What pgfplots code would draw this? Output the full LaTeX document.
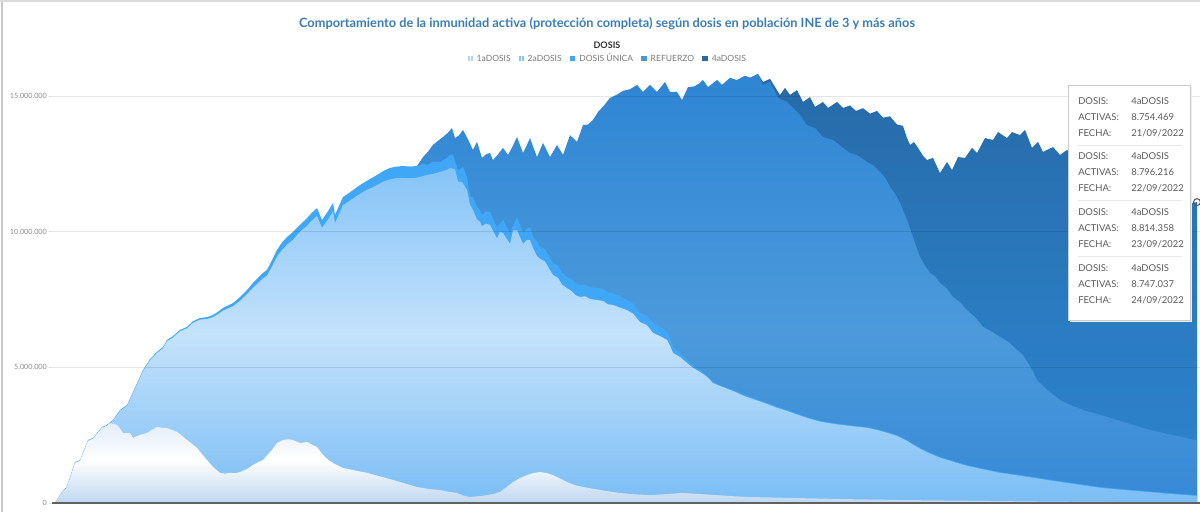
\documentclass[border=0pt]{standalone}
\usepackage{fontspec}
\setmainfont{Lato}
\usepackage{pgfplots}
\pgfplotsset{compat=1.18}
\usepackage{pgfplotstable}

\definecolor{titleblue}{HTML}{3A7DB6}
\definecolor{c4top}{HTML}{276AA7}
\definecolor{c4mid}{HTML}{2A7ABF}
\definecolor{c4bot}{HTML}{2D84CD}
\definecolor{crtop}{HTML}{2E85D3}
\definecolor{crmid}{HTML}{4C9ADC}
\definecolor{crbot}{HTML}{3689D5}
\definecolor{cuni}{HTML}{3FA7F6}
\definecolor{c2top}{HTML}{85C4F7}
\definecolor{c2mid}{HTML}{C4E2FB}
\definecolor{c2bot}{HTML}{7ABDF5}
\definecolor{c1top}{HTML}{E3EDF9}
\definecolor{c1mid}{HTML}{FFFFFF}
\definecolor{c1bot}{HTML}{BFD7F1}
\definecolor{ttext}{HTML}{5A5A5A}
\definecolor{legtext}{HTML}{7A7A7A}

\pgfdeclareverticalshading{shFour}{100bp}{color(0bp)=(c4bot); color(25bp)=(c4bot); color(50bp)=(c4mid); color(75bp)=(c4top); color(100bp)=(c4top)}
\pgfdeclareverticalshading{shRef}{100bp}{color(0bp)=(crbot); color(25bp)=(crbot); color(45bp)=(crmid); color(75bp)=(crtop); color(100bp)=(crtop)}
\pgfdeclareverticalshading{shTwo}{100bp}{color(0bp)=(c2bot); color(25bp)=(c2bot); color(50bp)=(c2mid); color(75bp)=(c2top); color(100bp)=(c2top)}
\pgfdeclareverticalshading{shOne}{100bp}{color(0bp)=(c1bot); color(25bp)=(c1bot); color(52bp)=(c1mid); color(75bp)=(c1top); color(100bp)=(c1top)}

% Cumulative tops (millions) of the stacked series; x = day position
% top of 4aDOSIS (total), where 4aDOSIS exists
\pgfplotstableread{
x y
740 15.65
745 15.74
750 15.67
758 15.81
763 15.52
770 15.63
780 15.04
785 15.30
790 15.04
797 15.22
803 14.78
810 14.96
815 14.60
823 14.78
828 14.56
837 14.78
843 14.56
850 14.65
856 14.45
863 14.55
870 14.35
877 14.45
883 14.20
890 14.25
897 13.95
903 13.90
907 13.45
910 13.20
914 13.30
918 13.09
923 12.80
927 12.64
933 12.72
940 12.16
947 12.57
952 12.27
958 12.75
965 12.72
972 13.09
977 12.90
985 13.45
993 13.38
998 13.67
1007 13.45
1012 13.67
1020 13.56
1025 13.75
1032 13.09
1038 13.31
1043 12.94
1053 13.12
1060 12.83
1067 13.01
1075 12.75
1082 12.95
1090 12.65
1097 12.85
1105 12.45
1112 12.60
1120 12.25
1127 12.40
1135 12.05
1142 12.20
1150 11.85
1157 11.95
1165 11.65
1172 11.75
1180 11.40
1187 11.30
1192 11.06
1197 11.09
}\tFour

% top of REFUERZO
\pgfplotstableread{
x y
417 12.42
423 12.75
428 12.95
433 13.20
438 13.35
443 13.49
448 13.65
452 13.82
455 13.45
459 13.55
463 13.75
468 13.40
473 13.01
477 13.31
482 12.72
486 12.85
490 12.90
493 12.64
498 12.85
503 13.09
508 12.83
512 13.10
517 13.49
523 12.90
527 13.20
530 13.45
537 12.75
543 13.27
550 12.75
557 13.20
563 12.83
570 13.56
577 13.31
583 13.93
588 13.95
593 14.12
598 14.41
604 14.65
610 14.93
617 15.05
623 15.19
630 15.25
637 15.41
643 15.15
650 15.41
657 15.15
665 15.52
670 15.15
677 15.15
682 14.85
688 15.33
694 15.35
700 15.48
703 15.59
708 15.33
717 15.59
722 15.41
730 15.67
737 15.59
745 15.74
750 15.67
758 15.81
763 15.40
770 15.52
778 14.93
787 14.78
793 14.56
800 14.30
807 13.93
815 13.82
823 13.49
833 13.38
843 13.09
850 12.90
858 12.80
867 12.57
873 12.45
880 12.20
885 12.00
890 11.65
895 11.40
900 11.06
907 10.43
913 9.80
920 9.07
925 8.75
930 8.48
935 8.35
940 8.11
947 7.90
953 7.59
960 7.40
967 7.11
975 6.85
983 6.49
990 6.35
1000 6.12
1008 5.95
1017 5.64
1023 5.45
1028 5.16
1033 4.85
1037 4.53
1042 4.35
1047 4.17
1053 4.00
1060 3.80
1070 3.62
1083 3.43
1100 3.25
1117 3.06
1133 2.88
1150 2.69
1167 2.55
1183 2.43
1197 2.30
}\tRef

% top of DOSIS UNICA
\pgfplotstableread{
x y
55 0
60 0.30
63 0.48
66 0.55
68 0.74
75 1.51
80 1.58
88 2.32
93 2.40
102 2.80
107 2.88
113 3.06
120 3.43
127 3.61
133 4.09
143 4.90
150 5.30
157 5.57
163 5.75
167 6.01
173 6.15
180 6.38
187 6.49
193 6.70
200 6.82
207 6.85
213 6.93
218 7.05
223 7.19
233 7.37
240 7.59
247 7.85
253 8.11
263 8.48
267 8.59
272 8.95
277 9.33
282 9.60
287 9.80
293 9.99
300 10.25
307 10.50
312 10.70
317 10.87
322 10.43
328 10.75
333 11.06
335 10.62
343 11.28
350 11.45
360 11.72
368 11.90
377 12.09
384 12.25
390 12.35
397 12.40
403 12.42
410 12.40
417 12.42
423 12.50
427 12.46
433 12.57
440 12.57
447 12.72
450 12.83
453 12.83
458 12.27
463 12.38
467 12.02
470 11.28
473 11.28
477 10.91
480 10.80
482 10.62
486 10.75
490 10.73
497 10.17
503 10.43
510 9.95
517 10.54
520 10.25
523 9.95
527 10.10
530 10.17
533 9.80
537 9.65
540 9.44
545 9.35
549 9.10
553 8.85
558 8.75
562 8.50
567 8.33
572 8.25
576 8.10
580 8.04
585 8.05
590 7.95
597 7.92
603 7.90
608 7.75
613 7.74
620 7.62
627 7.48
633 7.35
640 7.00
647 6.90
653 6.63
660 6.50
667 6.30
670 6.10
673 5.75
680 5.55
687 5.27
693 5.05
700 4.90
707 4.70
713 4.46
720 4.35
733 4.17
743 4.00
753 3.87
767 3.69
777 3.55
787 3.43
797 3.30
810 3.13
820 3.03
833 2.95
850 2.87
867 2.80
877 2.72
887 2.62
897 2.50
907 2.32
913 2.18
920 2.03
930 1.85
940 1.70
953 1.55
967 1.40
983 1.27
1000 1.14
1017 1.05
1033 0.96
1050 0.86
1067 0.77
1083 0.68
1100 0.59
1117 0.53
1133 0.48
1150 0.43
1167 0.37
1183 0.33
1197 0.29
}\tUni

% top of 2aDOSIS
\pgfplotstableread{
x y
55 0
60 0.29
63 0.46
66 0.53
68 0.71
75 1.48
80 1.55
88 2.29
93 2.37
102 2.77
107 2.85
113 3.03
120 3.40
127 3.58
133 4.05
143 4.86
150 5.26
157 5.53
163 5.70
167 5.96
173 6.10
180 6.33
187 6.44
193 6.64
200 6.76
207 6.78
213 6.85
218 6.96
223 7.09
233 7.25
240 7.45
247 7.70
253 7.93
263 8.28
267 8.38
272 8.72
277 9.08
282 9.33
287 9.52
293 9.70
300 10.00
307 10.22
312 10.42
317 10.58
322 10.14
328 10.45
333 10.75
335 10.32
343 10.98
350 11.15
360 11.40
368 11.56
377 11.72
384 11.86
390 11.93
397 11.98
403 11.98
410 11.97
417 11.99
423 12.05
427 12.09
433 12.13
440 12.20
447 12.28
450 12.35
455 12.31
458 11.85
462 11.83
467 11.54
470 11.00
473 10.80
477 10.45
480 10.36
482 10.20
486 10.30
490 10.25
497 9.75
500 10.00
503 9.95
510 9.55
513 10.05
517 10.05
520 9.80
523 9.55
527 9.70
530 9.69
533 9.40
537 9.10
540 9.00
545 8.90
549 8.65
553 8.40
558 8.30
562 8.05
567 7.92
572 7.80
576 7.65
580 7.59
585 7.62
590 7.52
597 7.48
603 7.45
608 7.32
613 7.30
620 7.20
627 7.11
633 6.98
640 6.67
647 6.55
653 6.27
660 6.15
667 6.01
670 5.80
673 5.53
680 5.38
687 5.16
693 4.98
700 4.83
707 4.65
713 4.42
720 4.31
733 4.13
743 3.96
753 3.83
767 3.65
777 3.51
787 3.39
797 3.26
810 3.10
820 3.00
833 2.92
850 2.84
867 2.77
877 2.69
887 2.59
897 2.47
907 2.29
913 2.15
920 2.00
930 1.82
940 1.67
953 1.52
967 1.37
983 1.24
1000 1.11
1017 1.02
1033 0.93
1050 0.83
1067 0.74
1083 0.65
1100 0.56
1117 0.50
1133 0.45
1150 0.40
1167 0.34
1183 0.30
1197 0.26
}\tTwo

% top of 1aDOSIS
\pgfplotstableread{
x y
55 0
60 0.29
63 0.46
66 0.53
68 0.71
75 1.48
80 1.55
88 2.29
93 2.37
102 2.77
107 2.85
110 2.95
113 2.92
117 2.88
120 2.75
123 2.58
130 2.58
133 2.40
136 2.45
140 2.51
147 2.58
152 2.70
157 2.80
162 2.78
167 2.76
172 2.70
177 2.62
182 2.48
187 2.32
192 2.18
197 2.03
202 1.80
207 1.58
213 1.33
220 1.11
225 1.08
230 1.11
235 1.10
240 1.14
247 1.25
253 1.40
258 1.50
263 1.58
267 1.75
270 1.88
274 2.05
277 2.21
283 2.32
288 2.35
293 2.32
300 2.21
307 2.25
312 2.15
317 2.06
323 1.77
328 1.60
333 1.47
338 1.38
343 1.29
355 1.20
367 1.11
380 0.98
393 0.85
405 0.72
417 0.59
428 0.52
440 0.48
448 0.42
457 0.37
463 0.28
470 0.22
478 0.25
487 0.29
493 0.33
500 0.41
507 0.60
513 0.77
520 0.92
527 1.03
533 1.10
540 1.14
547 1.10
553 1.03
560 0.90
567 0.77
575 0.66
583 0.59
592 0.53
600 0.48
610 0.42
620 0.37
635 0.32
650 0.29
667 0.33
683 0.37
700 0.33
717 0.29
733 0.25
750 0.22
775 0.20
800 0.18
850 0.14
900 0.11
950 0.09
1000 0.07
1050 0.05
1100 0.04
1150 0.03
1197 0.02
}\tOne

\begin{document}
\begin{tikzpicture}
\useasboundingbox (0,0) rectangle (900pt,384pt);
\begin{axis}[
  at={(39pt,6.75pt)}, anchor=south west,
  scale only axis, width=861pt, height=325.6pt,
  xmin=52, xmax=1200, ymin=0, ymax=16,
  axis lines*=left,
  y axis line style={draw=none},
  x axis line style={draw=black!62, line width=1pt},
  xtick=\empty,
  ytick={0,5,10,15},
  yticklabels={0,5.000.000,10.000.000,15.000.000},
  tick align=outside,
  major tick length=2.5pt,
  ytick style={draw=black!12, line width=0.75pt},
  yticklabel style={font=\fontsize{5.4pt}{6pt}\selectfont, text=black!45, inner sep=0pt, xshift=-1.2pt},
  /pgf/number format/assume math mode=true,
  ymajorgrids,
  major grid style={draw=black, opacity=0.1, line width=0.75pt},
  axis on top,
  clip=false,
]
\addplot[draw=none, shade, shading=shFour] table {\tFour} \closedcycle;
\addplot[draw=none, shade, shading=shRef] table {\tRef} \closedcycle;
\addplot[draw=none, fill=cuni] table {\tUni} \closedcycle;
\addplot[draw=none, shade, shading=shTwo] table {\tTwo} \closedcycle;
\addplot[draw=none, shade, shading=shOne] table {\tOne} \closedcycle;
\addplot[only marks, mark=o, mark size=2.6pt, mark options={draw=black!65, line width=0.8pt}] coordinates {(1197,11.09)};
\end{axis}

\begin{scope}[x=0.75pt, y=0.75pt]
% panel border
\draw[black!22, line width=0.9pt] (2,0) -- (2,512);
\draw[black!14, line width=2pt] (0,511) -- (1200,511);
% title
\node[text=titleblue, font=\fontsize{9.6pt}{11pt}\selectfont\bfseries] at (607,512-24) {Comportamiento de la inmunidad activa (protección completa) según dosis en población INE de 3 y más años};
% legend
\node[text=black!80, font=\fontsize{6.8pt}{8pt}\selectfont\bfseries] at (607,512-45) {DOSIS};
\node[text=legtext, font=\fontsize{6.4pt}{8pt}\selectfont] at (607,512-57.5) {%
\textcolor{c2top!70!white}{\rule{1.1pt}{4.2pt}\hspace{1.2pt}\rule{1.1pt}{4.2pt}}\hspace{3pt}1aDOSIS\hspace{6pt}%
\textcolor{c2top}{\rule{1.4pt}{4.2pt}\hspace{0.9pt}\rule{1.4pt}{4.2pt}}\hspace{3pt}2aDOSIS\hspace{6pt}%
\textcolor{cuni}{\rule{4.2pt}{4.2pt}}\hspace{3pt}DOSIS ÚNICA\hspace{6pt}%
\textcolor{crmid!80!crtop}{\rule{4.2pt}{4.2pt}}\hspace{3pt}REFUERZO\hspace{6pt}%
\textcolor{c4top}{\rule{4.2pt}{4.2pt}}\hspace{3pt}4aDOSIS};
% tooltip
\fill[black!8] (1069.5,512-321.5) rectangle (1191.5,512-86.5);
\draw[draw=black!20, fill=white, line width=0.7pt] (1068,512-85) rectangle (1190,512-320);
\foreach \yy in {145,200.7,256.7} {\draw[black!9, line width=0.6pt] (1078,512-\yy) -- (1182,512-\yy);}
\begin{scope}[every node/.style={anchor=west, inner sep=0pt, text=ttext, font=\fontsize{7.1pt}{8pt}\selectfont}]
\foreach \base/\act/\fec in {100.7/8.754.469/21\slash 09\slash 2022, 156/8.796.216/22\slash 09\slash 2022, 211.7/8.814.358/23\slash 09\slash 2022, 268/8.747.037/24\slash 09\slash 2022} {
  \node at (1078,512-\base) {DOSIS:};
  \node at (1131,512-\base) {4aDOSIS};
  \node at (1078,512-\base-16.4) {ACTIVAS:};
  \node at (1131,512-\base-16.4) {\act};
  \node at (1078,512-\base-32.6) {FECHA:};
  \node at (1131,512-\base-32.6) {\fec};
}
\end{scope}
\end{scope}
\end{tikzpicture}
\end{document}
